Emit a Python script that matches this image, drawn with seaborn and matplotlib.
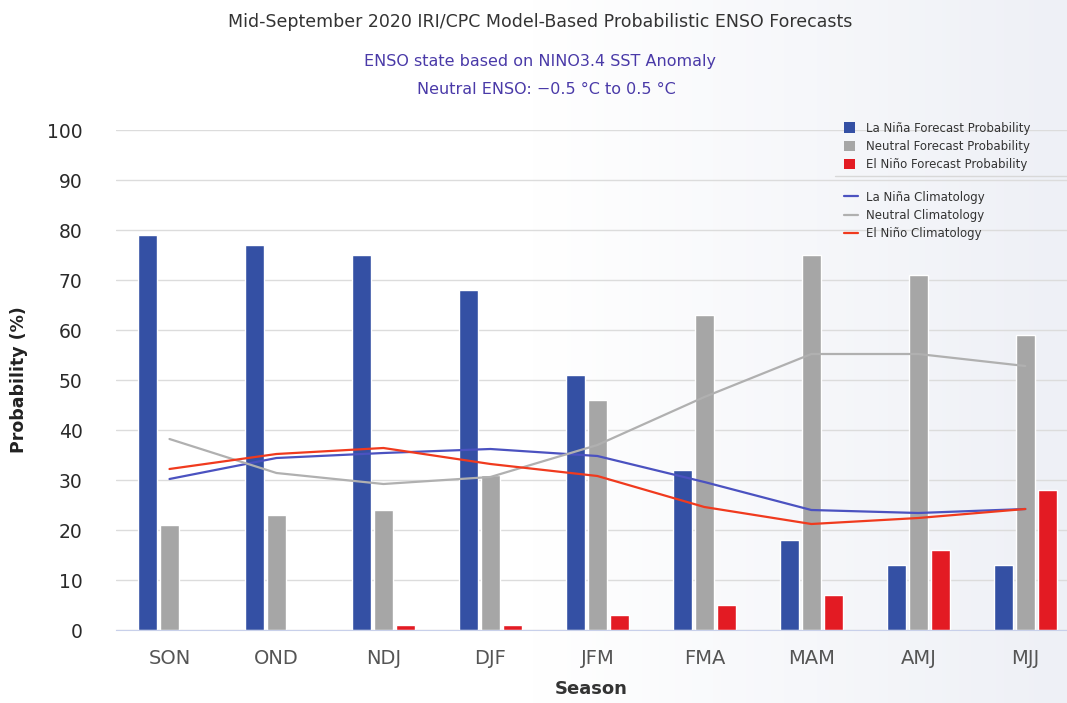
import numpy as np
import pandas as pd
import matplotlib
matplotlib.use('Agg')
import matplotlib.pyplot as plt
import seaborn as sns
from matplotlib.patches import Patch
from matplotlib.lines import Line2D

# --- data ---
seasons = ['SON', 'OND', 'NDJ', 'DJF', 'JFM', 'FMA', 'MAM', 'AMJ', 'MJJ']
lanina_prob = [79, 77, 75, 68, 51, 32, 18, 13, 13]
neutral_prob = [21, 23, 24, 31, 46, 63, 75, 71, 59]
elnino_prob = [0, 0, 1, 1, 3, 5, 7, 16, 28]

lanina_clim = [30.2, 34.4, 35.4, 36.2, 34.8, 29.6, 24.0, 23.4, 24.2]
neutral_clim = [38.2, 31.4, 29.2, 30.6, 37.0, 46.6, 55.2, 55.2, 52.8]
elnino_clim = [32.2, 35.2, 36.4, 33.2, 30.8, 24.6, 21.2, 22.4, 24.2]

bar_names = ['La Niña Forecast Probability', 'Neutral Forecast Probability', 'El Niño Forecast Probability']
line_names = ['La Niña Climatology', 'Neutral Climatology', 'El Niño Climatology']
bar_colors = ['#3450a4', '#a6a6a6', '#e31b23']
line_colors = ['#4b52c0', '#b0b0b0', '#f03a1e']

df = pd.DataFrame({
    'season': seasons * 3,
    'kind': [bar_names[0]] * 9 + [bar_names[1]] * 9 + [bar_names[2]] * 9,
    'prob': lanina_prob + neutral_prob + elnino_prob,
})

sns.set_style('white')
plt.rcParams['font.family'] = ['DejaVu Sans']

fig = plt.figure(figsize=(10.67, 7.03), dpi=100)

# soft background gradient
bg = fig.add_axes([0, 0, 1, 1], zorder=-10)
grad = np.linspace(0, 1, 256)[None, :]
bg.imshow(grad, aspect='auto', cmap=matplotlib.colors.LinearSegmentedColormap.from_list(
    'bg', ['#ffffff', '#ffffff', '#eef0f6']), extent=[0, 1, 0, 1])
bg.axis('off')

ax = fig.add_axes([116 / 1067, 1 - 630 / 703, 1 - 116 / 1067, 500 / 703])
ax.patch.set_alpha(0)

sns.barplot(data=df, x='season', y='prob', hue='kind', order=seasons,
            hue_order=bar_names, palette=bar_colors, width=0.62, gap=0.14,
            saturation=1, ax=ax, legend=False, zorder=2)

x = np.arange(len(seasons))
for vals, col in zip([lanina_clim, neutral_clim, elnino_clim], line_colors):
    sns.lineplot(x=x, y=vals, color=col, linewidth=1.6, ax=ax, zorder=3)

ax.set_ylim(0, 100)
ax.set_xlim(-0.5, 8.39)
ax.set_yticks(range(0, 101, 10))
ax.yaxis.grid(True, color='#dcdcdc', linewidth=1)
ax.set_axisbelow(True)
for s in ['top', 'right', 'left']:
    ax.spines[s].set_visible(False)
ax.spines['bottom'].set_color('#c8d0ea')
ax.tick_params(axis='both', length=0)
ax.tick_params(axis='y', labelsize=13.5, labelcolor='#2a2a2a', pad=24)
ax.tick_params(axis='x', labelsize=14, labelcolor='#555555', pad=14)
ax.set_xlabel('Season', fontsize=13, fontweight='bold', color='#333333', labelpad=8)
ax.set_ylabel('Probability (%)', fontsize=12.5, fontweight='bold', color='#222222', labelpad=14)

fig.text(0.506, 0.968, 'Mid-September 2020 IRI/CPC Model-Based Probabilistic ENSO Forecasts',
         ha='center', va='center', fontsize=12.5, color='#333333')
fig.text(0.506, 0.912, 'ENSO state based on NINO3.4 SST Anomaly',
         ha='center', va='center', fontsize=11.5, color='#4a3aa8')
fig.text(0.512, 0.872, 'Neutral ENSO: \u22120.5 \u00b0C to 0.5 \u00b0C',
         ha='center', va='center', fontsize=11.5, color='#4a3aa8')

bar_handles = [Patch(facecolor=c, edgecolor='none') for c in bar_colors]
leg1 = fig.legend(bar_handles, bar_names, loc='upper left', bbox_to_anchor=(833 / 1067, 1 - 111 / 703),
                  frameon=False, fontsize=8.5, handlelength=1.0, handleheight=1.0,
                  labelspacing=0.45, handletextpad=0.9, labelcolor='#333333')
line_handles = [Line2D([0], [0], color=c, linewidth=1.6) for c in line_colors]
leg2 = fig.legend(line_handles, line_names, loc='upper left', bbox_to_anchor=(833 / 1067, 1 - 180 / 703),
                  frameon=False, fontsize=8.5, handlelength=1.2,
                  labelspacing=0.45, handletextpad=0.7, labelcolor='#333333')
fig.lines.append(Line2D([835 / 1067, 1], [1 - 176 / 703, 1 - 176 / 703], transform=fig.transFigure,
                        color='#d8d8d8', linewidth=1))

fig.savefig('out.png', dpi=100)
